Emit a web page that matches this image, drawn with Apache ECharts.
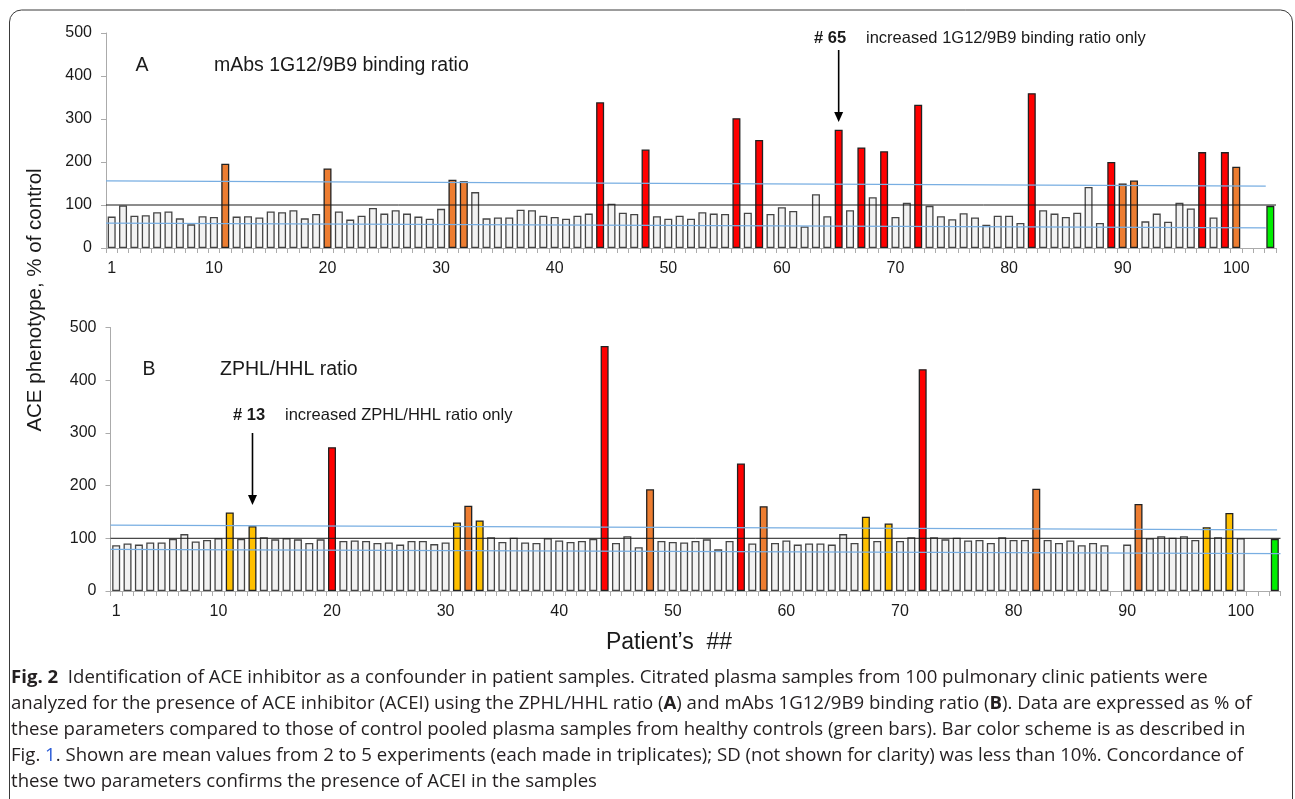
<!DOCTYPE html>
<html><head><meta charset="utf-8">
<script src="https://cdn.jsdelivr.net/npm/echarts@6/dist/echarts.min.js"></script>
<style>html,body{margin:0;padding:0;background:#fff}#c{width:1295px;height:799px}</style>
</head><body><div id="c"></div>
<script>
// ---------- DATA ----------
const tickLabels = ['1','10','20','30','40','50','60','70','80','90','100'];
const categories = [];
for (let n = 1; n <= 103; n++) categories.push(String(n));

// Panel A: mAbs 1G12/9B9 binding ratio, % of control (patients 1..100)
const valuesA = [
  73, 99, 75, 76, 83, 85, 69, 55, 74, 72,
  196, 73, 74, 71, 85, 83, 88, 69, 79, 185,
  85, 66, 75, 93, 80, 88, 80, 73, 68, 91,
  159, 155, 130, 69, 71, 71, 89, 88, 75, 72,
  68, 75, 80, 339, 103, 82, 79, 229, 74, 68,
  75, 68, 83, 80, 79, 302, 82, 251, 79, 95,
  86, 50, 125, 74, 275, 88, 234, 118, 225, 72,
  105, 333, 98, 74, 67, 81, 71, 54, 75, 75,
  58, 360, 88, 80, 72, 82, 142, 58, 200, 150,
  157, 62, 80, 61, 105, 92, 223, 71, 223, 189
];
const controlA = 98;
const redA = [44, 48, 56, 58, 65, 67, 69, 72, 82, 89, 97, 99];
const orangeA = [11, 20, 31, 32, 90, 91, 100];

// Panel B: ZPHL/HHL ratio, % of control (patients 1..100)
const valuesB = [
  87, 90, 88, 92, 92, 99, 108, 94, 97, 100,
  149, 99, 123, 102, 98, 100, 98, 91, 98, 273,
  95, 96, 95, 91, 92, 88, 95, 95, 89, 92,
  130, 162, 134, 102, 93, 101, 92, 91, 100, 96,
  93, 95, 99, 465, 91, 104, 83, 193, 95, 93,
  92, 95, 98, 79, 95, 242, 90, 161, 91, 96,
  88, 90, 90, 88, 108, 91, 141, 95, 128, 95,
  102, 421, 102, 98, 101, 96, 97, 91, 102, 97,
  97, 194, 97, 91, 96, 87, 91, 87, null, 88,
  165, 100, 104, 101, 104, 97, 121, 102, 148, 100
];
const controlB = 99;
const redB = [20, 44, 56, 72];
const orangeB = [32, 48, 58, 82, 91];
const yellowB = [11, 13, 31, 33, 67, 69, 97, 99];

// reference lines: [position along axis (0..103 category widths), value]
const refA = [[0, 100], [103, 100]];
const upperA = [[0, 156], [102.1, 144]];
const lowerA = [[0, 58], [102.1, 47]];
const refB = [[0, 100], [103, 100]];
const upperB = [[0, 125], [102.7, 116]];
const lowerB = [[0, 79], [103, 71]];

// ---------- STYLE ----------
const COL = { normal: '#f2f2f2', red: '#ff0000', orange: '#ed7d31', yellow: '#ffc000', control: '#00ee00' };
const axisGray = '#ababab';
const txt = '#1a1a1a';

function buildBars(vals, control, groups) {
  const all = vals.concat([null, null, control]);
  return all.map((v, i) => {
    const n = i + 1;
    let c = COL.normal;
    if (n === 103) c = COL.control;
    else groups.forEach(g => { if (g.ids.includes(n)) c = g.color; });
    return { value: v, itemStyle: { color: c, borderColor: c === COL.normal ? '#454545' : '#222', borderWidth: 1.3 } };
  });
}

const catAxis = (gi) => ({
  type: 'category', gridIndex: gi, data: categories,
  axisLine: { lineStyle: { color: axisGray, width: 1 } },
  axisTick: { show: true, interval: 0, length: 5, lineStyle: { color: axisGray } },
  axisLabel: { interval: (i, v) => tickLabels.includes(v), margin: 13, fontSize: 16, color: txt, fontFamily: 'Arial, Liberation Sans, sans-serif' },
  splitLine: { show: false }
});
const posAxis = (gi) => ({ type: 'value', gridIndex: gi, min: 0, max: 103, show: false });
const valAxis = (gi) => ({
  type: 'value', gridIndex: gi, min: 0, max: 500, interval: 100,
  axisLine: { show: true, lineStyle: { color: axisGray } },
  axisTick: { show: true, length: 5, lineStyle: { color: axisGray } },
  axisLabel: { margin: 14, fontSize: 16, color: txt, fontFamily: 'Arial, Liberation Sans, sans-serif' },
  splitLine: { show: false }
});
const lineS = (xi, yi, data, color, w) => ({
  type: 'line', xAxisIndex: xi, yAxisIndex: yi, data: data, symbol: 'none', silent: true, z: 5,
  lineStyle: { color: color, width: w }
});
const blue = '#78aee2';

const chart = echarts.init(document.getElementById('c'));
chart.setOption({
  animation: false,
  backgroundColor: '#fff',
  grid: [
    { left: 106, top: 33, width: 1170, height: 215 },
    { left: 110.5, top: 327.5, width: 1170, height: 263.5 }
  ],
  xAxis: [catAxis(0), posAxis(0), catAxis(1), posAxis(1)],
  yAxis: [valAxis(0), valAxis(1)],
  series: [
    { type: 'bar', xAxisIndex: 0, yAxisIndex: 0, barWidth: 8, z: 2,
      data: buildBars(valuesA, controlA, [{ ids: orangeA, color: COL.orange }, { ids: redA, color: COL.red }]) },
    lineS(1, 0, refA, '#1a1a1a', 1),
    lineS(1, 0, upperA, blue, 1.3),
    lineS(1, 0, lowerA, blue, 1.3),
    { type: 'bar', xAxisIndex: 2, yAxisIndex: 1, barWidth: 8, z: 2,
      data: buildBars(valuesB, controlB, [{ ids: yellowB, color: COL.yellow }, { ids: orangeB, color: COL.orange }, { ids: redB, color: COL.red }]) },
    lineS(3, 1, refB, '#1a1a1a', 1),
    lineS(3, 1, upperB, blue, 1.3),
    lineS(3, 1, lowerB, blue, 1.3)
  ]
});

// ---------- ANNOTATIONS ----------
function px(v) { return Array.isArray(v) ? v[0] : v; }
const x65 = px(chart.convertToPixel({ xAxisIndex: 0 }, '65'));
const x13 = px(chart.convertToPixel({ xAxisIndex: 2 }, '13'));
const F = 'Arial, Liberation Sans, sans-serif';
const capF = '"Open Sans", "Noto Sans", sans-serif';
function arrow(x, y1, y2) {
  return [
    { type: 'line', shape: { x1: x, y1: y1, x2: x, y2: y2 - 8 }, style: { stroke: '#000', lineWidth: 1.6 }, z: 10 },
    { type: 'polygon', shape: { points: [[x - 4.5, y2 - 10], [x + 4.5, y2 - 10], [x, y2]] }, style: { fill: '#000' }, z: 10 }
  ];
}
const t = (x, y, text, size, extra) => Object.assign({ type: 'text', x: x, y: y, z: 10,
  style: Object.assign({ text: text, fontSize: size, fontFamily: F, fill: txt, verticalAlign: 'middle' }, extra || {}) });

const CS = 18.6;
const capStyle = { fontFamily: capF, fontSize: CS, fill: '#231f20', verticalAlign: 'middle',
  rich: { b: { fontFamily: capF, fontSize: CS, fontWeight: 'bold', fill: '#231f20' },
          l: { fontFamily: capF, fontSize: CS, fill: '#2a5bd7' } } };
const capLine = (y, text) => ({ type: 'text', x: 11, y: y, z: 10, style: Object.assign({ text: text }, capStyle) });

chart.setOption({
  graphic: [
    { type: 'rect', shape: { x: 9.5, y: 10, width: 1283, height: 830, r: 12 }, style: { fill: 'none', stroke: '#3a3a3a', lineWidth: 1 }, z: 1 },
    t(142, 66, 'A', 19.5, { align: 'center' }),
    t(214, 66, 'mAbs 1G12/9B9 binding ratio', 19.5),
    t(149, 370, 'B', 19.5, { align: 'center' }),
    t(220, 370, 'ZPHL/HHL ratio', 19.5),
    t(814, 38, '# 65', 16.5, { fontWeight: 'bold' }),
    t(866, 38, 'increased 1G12/9B9 binding ratio only', 16.5),
    t(233, 415, '# 13', 16.5, { fontWeight: 'bold' }),
    t(285, 415, 'increased ZPHL/HHL ratio only', 16.5),
    ...arrow(x65, 50, 122),
    ...arrow(x13, 433, 505),
    { type: 'text', x: 35, y: 300, rotation: Math.PI / 2, z: 10,
      style: { text: 'ACE phenotype, % of control', fontSize: 20.5, fontFamily: F, fill: txt, align: 'center', verticalAlign: 'middle' } },
    t(669, 643, 'Patient\u2019s  ##', 23, { align: 'center' }),
    capLine(678, '{b|Fig. 2}  Identification of ACE inhibitor as a confounder in patient samples. Citrated plasma samples from 100 pulmonary clinic patients were'),
    capLine(704, 'analyzed for the presence of ACE inhibitor (ACEI) using the ZPHL/HHL ratio ({b|A}) and mAbs 1G12/9B9 binding ratio ({b|B}). Data are expressed as % of'),
    capLine(730, 'these parameters compared to those of control pooled plasma samples from healthy controls (green bars). Bar color scheme is as described in'),
    capLine(756, 'Fig. {l|1}. Shown are mean values from 2 to 5 experiments (each made in triplicates); SD (not shown for clarity) was less than 10%. Concordance of'),
    capLine(782, 'these two parameters confirms the presence of ACEI in the samples')
  ]
});
</script>
</body></html>
